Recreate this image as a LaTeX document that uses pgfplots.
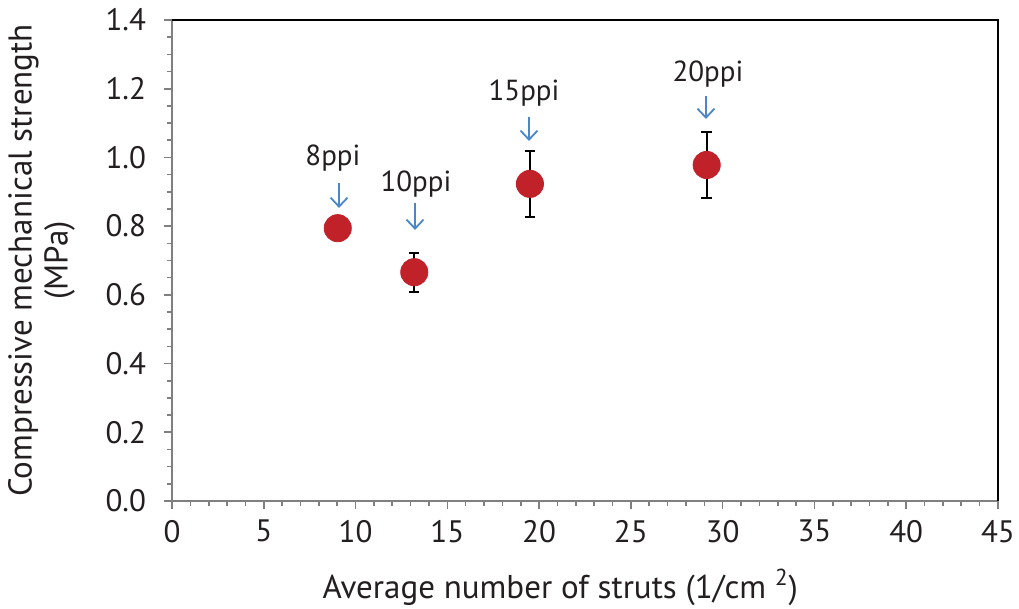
\documentclass[border=0pt]{standalone}
\usepackage{pgfplots}
\pgfplotsset{compat=1.18}
\usepackage{fontspec}
\setmainfont{PT Sans}
\usetikzlibrary{arrows.meta}
\definecolor{ptred}{HTML}{C1222A}
\definecolor{arrblue}{HTML}{4A86C8}
\definecolor{axgray}{HTML}{808080}
\definecolor{txt}{HTML}{231F20}

\begin{document}
\begin{tikzpicture}
\begin{axis}[
  scale only axis,
  width=413pt, height=240.5pt,
  at={(0,0)}, anchor=south west,
  xmin=0, xmax=45, ymin=0, ymax=1.4,
  xtick={0,5,...,45},
  ytick={0,0.2,...,1.4},
  minor x tick num=4,
  minor y tick num=3,
  axis x line*=bottom,
  axis y line*=left,
  axis line style={axgray, line width=1pt, -},
  tick style={axgray, line width=0.8pt},
  tick align=outside,
  major tick length=4pt,
  minor tick length=2.5pt,
  /pgf/number format/assume math mode=true,
  ticklabel style={font=\fontsize{15.5}{17}\selectfont, text=txt},
  y tick label style={/pgf/number format/fixed, /pgf/number format/fixed zerofill, /pgf/number format/precision=1, xshift=-5.5pt},
  x tick label style={yshift=-2pt},
  xlabel={Average number of struts (1/cm \textsuperscript{2})},
  ylabel={Compressive mechanical strength\\(MPa)},
  label style={font=\fontsize{16.5}{18}\selectfont, text=txt},
  xlabel style={at={(axis description cs:0.47,-0.18)}, anchor=center},
  ylabel style={at={(axis description cs:-0.158,0.5)}, anchor=center, align=center},
  clip=false,
]
% error bars (8ppi has none)
\addplot[draw=none, mark=none,
  error bars/.cd, y dir=both, y explicit,
  error mark options={black, line width=1pt, mark size=2.6pt, rotate=90},
  error bar style={black, line width=1pt}]
  coordinates {
    (9.03,0.794) +- (0,0)
    (13.2,0.666) +- (0,0.057)
    (19.5,0.923) +- (0,0.097)
    (29.13,0.978) +- (0,0.095)
  };
% mean values
\addplot[only marks, mark=*, mark size=6.8pt,
  mark options={draw=ptred, fill=ptred}]
  coordinates {
    (9.03,0.794)
    (13.2,0.666)
    (19.5,0.923)
    (29.13,0.978)
  };
% pore-density annotations
\begin{scope}[arrblue, line width=0.9pt, -{Straight Barb[length=4.5pt, width=8.5pt]}]
  \draw (axis cs:9.1,0.926) -- (axis cs:9.1,0.853);
  \draw (axis cs:13.24,0.867) -- (axis cs:13.24,0.789);
  \draw (axis cs:19.45,1.118) -- (axis cs:19.45,1.048);
  \draw (axis cs:29.09,1.179) -- (axis cs:29.09,1.112);
\end{scope}
\begin{scope}[every node/.style={font=\fontsize{14.5}{16}\selectfont, text=txt, anchor=center}]
  \node at (axis cs:8.77,0.998) {8ppi};
  \node at (axis cs:13.29,0.923) {10ppi};
  \node at (axis cs:19.18,1.188) {15ppi};
  \node at (axis cs:29.2,1.243) {20ppi};
\end{scope}
% top and right frame
\draw[black, line width=1pt] (rel axis cs:0,1) -- (rel axis cs:1,1) -- (rel axis cs:1,0);
\end{axis}
\pgfresetboundingbox
\path (-86pt,-54pt) rectangle (423.5pt,250.5pt);
\end{tikzpicture}
\end{document}
